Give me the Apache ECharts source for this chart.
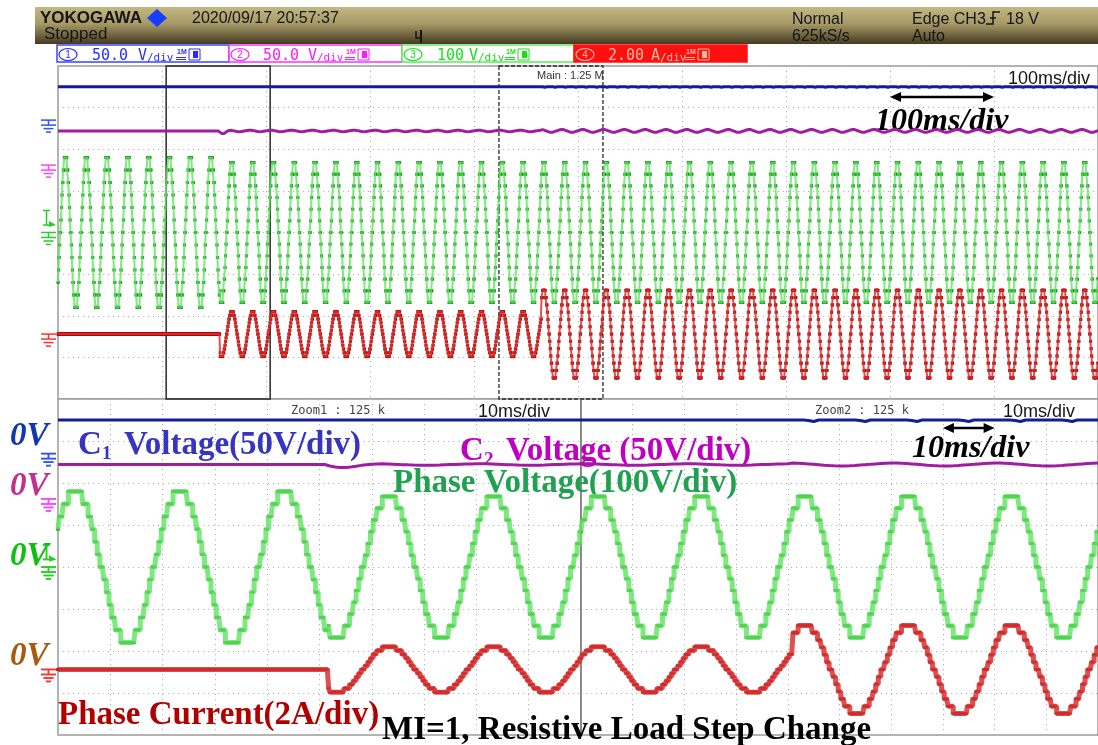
<!DOCTYPE html>
<html>
<head>
<meta charset="utf-8">
<title>MI=1, Resistive Load Step Change</title>
<script src="https://cdn.jsdelivr.net/npm/echarts/dist/echarts.min.js"></script>
<style>
html,body{margin:0;padding:0;background:#fff;}
#main{width:1098px;height:745px;}
</style>
</head>
<body>
<div id="main"></div>
<script>
// ---------------- recorded data ----------------
const recordMs = 1000;            // main window: 10 div x 100 ms
const zoomSpanMs = 100;           // each zoom window: 10 div x 10 ms
const zoomStartMs = [104, 424];   // Zoom1 / Zoom2 start inside the record
const sampleMs = 0.25;
const firstZeroCrossMs = 2.25;    // first rising zero crossing of the phase voltage

// 13-level output staircase over one 20 ms period, one entry per 0.25 ms,
// starting at a rising zero crossing (units: staircase levels)
const levelCycle = [
  0,0,1,1,2,2,3,3,4,4,4,5,5,5,5,6,6,6,6,6,6,6,6,6,6,6,5,5,5,5,4,4,4,3,3,2,2,1,1,0,
  0,0,-1,-1,-2,-2,-3,-3,-4,-4,-4,-5,-5,-5,-5,-6,-6,-6,-6,-6,-6,-6,-6,-6,-6,-6,-5,-5,-5,-5,-4,-4,-4,-3,-3,-2,-2,-1,-1,0
];

// load segments: no load, first resistive step, second resistive step
const segmentStartMs = [0, 155.6, 464.8];
const voltsPerLevel  = [30, 28, 28];
const ampsPerLevel   = [0, 0.18, 0.35];
const c1Volts        = [40, 40, 40];
const c2Volts        = [41, 41, 41];
const c1RippleGain   = [0, 0, 1];
const c2RippleGain   = [0, 0.5, 1];

// capacitor ripple, one entry per ms
const c1Ripple  = [0, 0, 0, 0, 0, 0, 0, 0, -0.6, -1.8];
const c2Ripple  = [0.2, 0.7, 1.2, 1.5, 1.7, 1.8, 1.6, 1.2, 0.7, 0.2, -0.3, -0.8, -1.2, -1.5, -1.7, -1.7, -1.5, -1.1, -0.6, -0.2];
const c2StepDip = [-1.0, -2.4, -3.2, -3.4, -3.0, -2.4, -1.6, -1.0, -0.5, -0.2];

// channel settings (units per division, position of ground in divisions above centre)
const unitsPerDiv = [50, 50, 100, 2];
const positionDiv = [2.7, 1.62, 0, -2.44];
const triggerLevelV = 18;

// ---------------- build traces ----------------
function segmentAt(t) { let k = 0; segmentStartMs.forEach((s, i) => { if (t >= s) k = i; }); return k; }

const phaseV = [], phaseI = [];
const nSamples = Math.round(recordMs / sampleMs);
const shift = Math.round(firstZeroCrossMs / sampleMs);
const L = levelCycle.length;
for (let j = 0; j <= nSamples; j++) {
  const t = j * sampleMs;
  const lv = levelCycle[((j - shift) % L + L) % L];
  const s = segmentAt(t);
  phaseV.push([t, lv * voltsPerLevel[s]]);
  phaseI.push([t, lv * ampsPerLevel[s]]);
}
const c1Trace = [], c2Trace = [];
for (let t = 0; t <= recordMs; t++) {
  const s = segmentAt(t);
  let v2 = c2Volts[s] + c2Ripple[t % c2Ripple.length] * c2RippleGain[s];
  const k = Math.floor(t - segmentStartMs[1]);
  if (k >= 0 && k < c2StepDip.length) v2 += c2StepDip[k];
  c1Trace.push([t, c1Volts[s] + c1Ripple[t % c1Ripple.length] * c1RippleGain[s]]);
  c2Trace.push([t, v2]);
}
function windowOf(arr, start) {
  return arr.filter(p => p[0] >= start - 1e-9 && p[0] <= start + zoomSpanMs + 1e-9)
            .map(p => [p[0] - start, p[1]]);
}

const panels = [
  { c1: c1Trace, c2: c2Trace, v: phaseV, i: phaseI, dot: [3, 3], band: 2 },
  { c1: windowOf(c1Trace, zoomStartMs[0]), c2: windowOf(c2Trace, zoomStartMs[0]),
    v: windowOf(phaseV, zoomStartMs[0]), i: windowOf(phaseI, zoomStartMs[0]), dot: [4, 3], band: 5 },
  { c1: windowOf(c1Trace, zoomStartMs[1]), c2: windowOf(c2Trace, zoomStartMs[1]),
    v: windowOf(phaseV, zoomStartMs[1]), i: windowOf(phaseI, zoomStartMs[1]), dot: [4, 3], band: 5 }
];

// ---------------- chart ----------------
const dotted = { show: true, lineStyle: { color: '#b2b2b2', type: [1.2, 3.8], width: 1 } };
const grids = [
  { left: 58, top: 66, width: 1044, height: 333 },
  { left: 58, top: 399, width: 523, height: 336 },
  { left: 581, top: 399, width: 522, height: 336 }
].map(g => Object.assign(g, { show: true, borderColor: '#9c9c9c', borderWidth: 1.5, backgroundColor: '#ffffff' }));

const xAxes = [recordMs, zoomSpanMs, zoomSpanMs].map((span, g) => ({
  gridIndex: g, type: 'value', min: 0, max: span, interval: span / 10,
  axisLine: { show: false }, axisTick: { show: false }, axisLabel: { show: false }, splitLine: dotted
}));
const yAxes = [];
for (let g = 0; g < 3; g++) {
  yAxes.push({ gridIndex: g, type: 'value', min: -4, max: 4, interval: 1,
    axisLine: { show: false }, axisTick: { show: false }, axisLabel: { show: false }, splitLine: dotted });
  for (let c = 0; c < 4; c++) {
    yAxes.push({ gridIndex: g, type: 'value', show: false,
      min: (-4 - positionDiv[c]) * unitsPerDiv[c], max: (4 - positionDiv[c]) * unitsPerDiv[c],
      splitLine: { show: false } });
  }
}

const series = [];
panels.forEach((p, g) => {
  const base = { xAxisIndex: g, silent: true, animation: false };
  series.push(Object.assign({ type: 'line', yAxisIndex: g * 5 + 2, data: p.c2, showSymbol: false,
    lineStyle: { color: '#a01ca0', width: 3 } }, base));
  series.push(Object.assign({ type: 'line', yAxisIndex: g * 5 + 1, data: p.c1, showSymbol: false,
    lineStyle: { color: '#141c98', width: 3 } }, base));
  series.push(Object.assign({ type: 'line', yAxisIndex: g * 5 + 3, data: p.v, showSymbol: false, step: 'end',
    lineStyle: { color: 'rgba(96,226,96,0.8)', width: p.band } }, base));
  series.push(Object.assign({ type: 'scatter', yAxisIndex: g * 5 + 3, data: p.v, symbol: 'rect',
    symbolSize: p.dot, progressive: 0, itemStyle: { color: '#179617' } }, base));
  series.push(Object.assign({ type: 'line', yAxisIndex: g * 5 + 4, data: p.i, showSymbol: false, step: 'end',
    lineStyle: { color: 'rgba(214,52,52,0.85)', width: p.band } }, base));
  series.push(Object.assign({ type: 'scatter', yAxisIndex: g * 5 + 4, data: p.i, symbol: 'rect',
    symbolSize: p.dot, progressive: 0, itemStyle: { color: '#b80000' } }, base));
});

const chart = echarts.init(document.getElementById('main'), null, { renderer: 'canvas' });
chart.setOption({ animation: false, backgroundColor: '#ffffff', grid: grids, xAxis: xAxes, yAxis: yAxes, series: series });

// ---------------- overlays ----------------
const SERIF = '"Liberation Serif", "Times New Roman", serif';
const SANS = '"Liberation Sans", Arial, sans-serif';
const MONO = '"DejaVu Sans Mono", monospace';
function label(str, x, baseline, size, font, fill, extra) {
  const k = font.indexOf('Serif') >= 0 ? 0.2 : 0.34;
  return { type: 'text', z: 50, silent: true,
    style: Object.assign({ text: str, x: x, y: baseline - k * size, font: font.replace('SIZE', size + 'px'),
      fill: fill, align: 'left', textAlign: 'left', verticalAlign: 'middle', textVerticalAlign: 'middle' }, extra || {}) };
}
function seg(x1, y1, x2, y2, color, w, dash) {
  return { type: 'line', z: 50, silent: true, shape: { x1: x1, y1: y1, x2: x2, y2: y2 },
    style: { stroke: color, lineWidth: w || 1, lineDash: dash || null } };
}
const emboss = { shadowColor: 'rgba(255,255,255,0.85)', shadowOffsetX: 1, shadowOffsetY: 1, shadowBlur: 0 };
const G = [];

// header band
G.push({ type: 'rect', z: 1, silent: true, shape: { x: 35, y: 7, width: 1063, height: 37 },
  style: { fill: { type: 'linear', x: 0, y: 0, x2: 0, y2: 1,
    colorStops: [{ offset: 0, color: '#c2b882' }, { offset: 0.45, color: '#a69a68' }, { offset: 1, color: '#463a22' }] } } });
G.push(label('YOKOGAWA', 40, 24, 17, 'bold SIZE ' + SANS, '#151515', emboss));
G.push({ type: 'polygon', z: 50, silent: true, shape: { points: [[157, 9], [167, 18], [157, 27], [147, 18]] }, style: { fill: '#1a3cff' } });
G.push(label('2020/09/17 20:57:37', 192, 24, 16, 'SIZE ' + SANS, '#151515', emboss));
G.push(label('Stopped', 44, 40, 17, 'SIZE ' + SANS, '#151515', emboss));
G.push(label('Normal', 792, 25, 16, 'SIZE ' + SANS, '#151515', emboss));
G.push(label('625kS/s', 792, 42, 16, 'SIZE ' + SANS, '#151515', emboss));
G.push(label('Edge CH3', 912, 25, 16, 'SIZE ' + SANS, '#151515', emboss));
G.push({ type: 'polyline', z: 50, silent: true, shape: { points: [[986, 24], [993, 24], [993, 12], [1000, 12]] }, style: { stroke: '#151515', lineWidth: 1.5, fill: null } });
G.push(seg(990, 18, 996, 18, '#151515', 1.5));
G.push(label('18 V', 1006, 25, 16, 'SIZE ' + SANS, '#151515', emboss));
G.push(label('Auto', 912, 42, 16, 'SIZE ' + SANS, '#151515', emboss));
G.push({ type: 'polyline', z: 50, silent: true, shape: { points: [[416, 31], [416, 38], [421, 38]] }, style: { stroke: '#151515', lineWidth: 1.5, fill: null } });
G.push(seg(421, 30, 421, 43, '#151515', 2));

// channel settings bar
const chanBar = [
  { x: 57,  w: 172, edge: '#3a44ff', bg: '#ffffff', ink: '#2a2aff', num: '1', val: '50.0', unit: 'V', valX: 35, unitX: 81, iconX: 120 },
  { x: 229, w: 173, edge: '#ff30ff', bg: '#ffffff', ink: '#ff18ff', num: '2', val: '50.0', unit: 'V', valX: 34, unitX: 79, iconX: 117 },
  { x: 402, w: 172, edge: '#55ee55', bg: '#ffffff', ink: '#18e018', num: '3', val: '100',  unit: 'V', valX: 35, unitX: 67, iconX: 104 },
  { x: 574, w: 173, edge: '#ff1010', bg: '#ff1010', ink: '#ffb8a0', num: '4', val: '2.00', unit: 'A', valX: 34, unitX: 77, iconX: 112 }
];
chanBar.forEach(b => {
  G.push({ type: 'rect', z: 40, silent: true, shape: { x: b.x, y: 45, width: b.w, height: 17 }, style: { fill: b.bg, stroke: b.edge, lineWidth: 1.5 } });
  G.push({ type: 'ellipse', z: 50, silent: true, shape: { cx: b.x + 11, cy: 54.5, rx: 9, ry: 6 }, style: { fill: null, stroke: b.ink, lineWidth: 1.2 } });
  G.push({ type: 'text', z: 50, silent: true, style: { text: b.num, x: b.x + 11, y: 55, font: '10px ' + SANS, fill: b.ink, align: 'center', textAlign: 'center', verticalAlign: 'middle', textVerticalAlign: 'middle' } });
  G.push(label(b.val, b.x + b.valX, 61, 15, 'SIZE ' + MONO, b.ink));
  G.push(label(b.unit, b.x + b.unitX, 61, 15, 'SIZE ' + MONO, b.ink));
  G.push(label('/div', b.x + b.unitX + 9, 62, 11, 'SIZE ' + MONO, b.ink));
  const ix = b.x + b.iconX;
  G.push(label('1M', ix, 54, 7, 'bold SIZE ' + SANS, b.ink));
  G.push(seg(ix - 1, 57.5, ix + 9, 57.5, b.ink, 1));
  G.push(seg(ix - 1, 59.5, ix + 9, 59.5, b.ink, 1));
  G.push({ type: 'rect', z: 50, silent: true, shape: { x: ix + 12, y: 49, width: 11, height: 11 }, style: { fill: null, stroke: b.ink, lineWidth: 1 } });
  G.push({ type: 'rect', z: 50, silent: true, shape: { x: ix + 16, y: 51, width: 5, height: 7 }, style: { fill: b.ink } });
});

// panel labels from the instrument
G.push(label('Main : 1.25 M', 537, 80, 11, 'SIZE ' + SANS, '#333333'));
G.push(label('100ms/div', 1008, 85, 18, 'SIZE ' + SANS, '#151515'));
G.push(label('Zoom1 : 125 k', 291, 415, 12, 'SIZE ' + MONO, '#444444'));
G.push(label('10ms/div', 478, 418, 18, 'SIZE ' + SANS, '#151515'));
G.push(label('Zoom2 : 125 k', 815, 415, 12, 'SIZE ' + MONO, '#444444'));
G.push(label('10ms/div', 1003, 418, 18, 'SIZE ' + SANS, '#151515'));
G.push(seg(581, 399, 581, 735, '#6a6a6a', 1));

// zoom window frames in the main record
const zx = zoomStartMs.map(s => [chart.convertToPixel({ xAxisIndex: 0 }, s), chart.convertToPixel({ xAxisIndex: 0 }, s + zoomSpanMs)]);
G.push({ type: 'rect', z: 45, silent: true, shape: { x: zx[0][0], y: 66, width: zx[0][1] - zx[0][0], height: 333 }, style: { fill: null, stroke: '#2a2a2a', lineWidth: 1.5 } });
G.push({ type: 'rect', z: 45, silent: true, shape: { x: zx[1][0], y: 66, width: zx[1][1] - zx[1][0], height: 333 }, style: { fill: null, stroke: '#2a2a2a', lineWidth: 1.3, lineDash: [4, 2] } });

// ground markers and trigger level marker on each panel
const inkGround = ['#3050ff', '#ff44ff', '#22d022', '#ff3030'];
for (let g = 0; g < 3; g++) {
  for (let c = 0; c < 4; c++) {
    const y0 = chart.convertToPixel({ yAxisIndex: g * 5 + 1 + c }, 0);
    const col = inkGround[c];
    G.push(seg(41, y0, 56, y0, col, 1.5));
    G.push(seg(48.5, y0, 48.5, y0 + 5, col, 1.5));
    G.push(seg(41, y0 + 5, 56, y0 + 5, col, 1.5));
    G.push(seg(43.5, y0 + 8.5, 53.5, y0 + 8.5, col, 1.5));
    G.push(seg(46, y0 + 12, 51, y0 + 12, col, 1.5));
    if (c === 2) {
      const yt = chart.convertToPixel({ yAxisIndex: g * 5 + 3 }, triggerLevelV);
      G.push(seg(43, y0 - 22, 50, y0 - 22, col, 1.5));
      G.push(seg(46.5, y0 - 22, 46.5, yt, col, 1.5));
      G.push(seg(43, yt, 50, yt, col, 1.5));
      G.push({ type: 'polygon', z: 50, silent: true, shape: { points: [[49, yt - 4], [56, yt], [49, yt + 2]] }, style: { fill: col } });
    }
  }
}

// time-scale arrows
function dblArrow(x1, x2, y) {
  G.push(seg(x1 + 6, y, x2 - 6, y, '#000000', 2.5));
  G.push({ type: 'polygon', z: 50, silent: true, shape: { points: [[x1, y], [x1 + 11, y - 5], [x1 + 11, y + 5]] }, style: { fill: '#000' } });
  G.push({ type: 'polygon', z: 50, silent: true, shape: { points: [[x2, y], [x2 - 11, y - 5], [x2 - 11, y + 5]] }, style: { fill: '#000' } });
}
dblArrow(chart.convertToPixel({ xAxisIndex: 0 }, 800), chart.convertToPixel({ xAxisIndex: 0 }, 900), 97);
dblArrow(chart.convertToPixel({ xAxisIndex: 2 }, 70), chart.convertToPixel({ xAxisIndex: 2 }, 80), 428);
G.push(label('100ms/div', 875, 128, 32, 'italic bold SIZE ' + SERIF, '#000000'));
G.push(label('10ms/div', 912, 455, 32, 'italic bold SIZE ' + SERIF, '#000000'));

// trace annotations
G.push(label('0V', 10, 443, 33, 'italic bold SIZE ' + SERIF, '#1238b0'));
G.push(label('0V', 10, 493, 33, 'italic bold SIZE ' + SERIF, '#c03090'));
G.push(label('0V', 10, 563, 33, 'italic bold SIZE ' + SERIF, '#10c010'));
G.push(label('0V', 10, 663, 33, 'italic bold SIZE ' + SERIF, '#a85a10'));
G.push(label('C', 78, 452, 33, 'bold SIZE ' + SERIF, '#3535c0'));
G.push(label('1', 102, 458, 19, 'bold SIZE ' + SERIF, '#3535c0'));
G.push(label('Voltage(50V/div)', 124, 452, 33, 'bold SIZE ' + SERIF, '#3535c0'));
G.push(label('C', 460, 458, 33, 'bold SIZE ' + SERIF, '#c000c0'));
G.push(label('2', 484, 464, 19, 'bold SIZE ' + SERIF, '#c000c0'));
G.push(label('Voltage (50V/div)', 506, 458, 33, 'bold SIZE ' + SERIF, '#c000c0'));
G.push(label('Phase Voltage(100V/div)', 393, 490, 33, 'bold SIZE ' + SERIF, '#20a050'));
G.push(label('Phase Current(2A/div)', 58, 722, 33, 'bold SIZE ' + SERIF, '#b00000'));
G.push(label('MI=1, Resistive Load Step Change', 382, 737, 33, 'bold SIZE ' + SERIF, '#000000'));

chart.setOption({ graphic: { elements: G } });
</script>
</body>
</html>
